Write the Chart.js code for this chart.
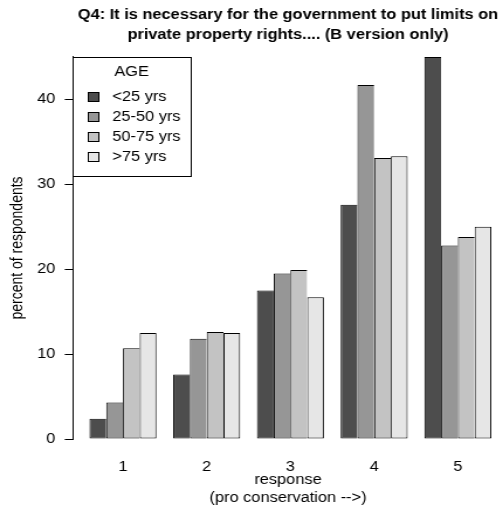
<!DOCTYPE html>
<html>
<head>
<meta charset="utf-8">
<script src="https://cdn.jsdelivr.net/npm/chart.js@4/dist/chart.umd.min.js"></script>
<style>
  html, body { margin: 0; padding: 0; background: #fff; overflow: hidden; }
  #wrap { width: 503px; height: 515px; overflow: hidden; }
  /* the plot is laid out on a narrower canvas and widened to the page */
  canvas { display: block; transform: scaleX(1.1698); transform-origin: 0 0; }
</style>
</head>
<body>
<div id="wrap"><canvas id="chart" width="430" height="515"></canvas></div>
<script>
// Response scale (1 = least, 5 = most pro conservation)
const responses = ['1', '2', '3', '4', '5'];

// Age groups shown in the legend
const ageGroups = ['<25 yrs', '25-50 yrs', '50-75 yrs', '>75 yrs'];

// Percent of respondents in each age group giving each response
const under25   = [2.4, 7.6, 17.5, 27.6, 45.0];
const age25to50 = [4.3, 11.8, 19.5, 41.7, 22.8];
const age50to75 = [10.7, 12.6, 19.9, 33.1, 23.8];
const over75    = [12.5, 12.5, 16.7, 33.3, 25.0];

const yTicks = [0, 10, 20, 30, 40];

const fills = ['#4D4D4D', '#969696', '#C3C3C3', '#E6E6E6'];
const FONT = '"Liberation Sans", Arial, Helvetica, sans-serif';

const seriesValues = [under25, age25to50, age50to75, over75];
const allValues = seriesValues.flat();

Chart.defaults.color = '#000';
Chart.defaults.font.family = FONT;
Chart.defaults.font.size = 14;

// Boxed legend with a heading, drawn in the top-left corner of the plot
const boxLegend = {
  id: 'boxLegend',
  afterDatasetsDraw(chart, args, opts) {
    const { ctx, chartArea } = chart;
    const x0 = Math.round(chartArea.left), y0 = Math.round(chartArea.top);
    ctx.save();
    ctx.fillStyle = '#fff';
    ctx.fillRect(x0, y0, opts.width, opts.height);
    ctx.strokeStyle = '#000';
    ctx.lineWidth = 1;
    ctx.strokeRect(x0 + 0.5, y0 + 0.5, opts.width, opts.height);
    ctx.font = '14px ' + FONT;
    ctx.fillStyle = '#000';
    ctx.textBaseline = 'middle';
    ctx.textAlign = 'center';
    ctx.fillText(opts.title, x0 + opts.width / 2, y0 + 15);
    ctx.textAlign = 'left';
    chart.data.datasets.forEach((ds, i) => {
      const cy = y0 + 40 + i * 20;
      ctx.fillStyle = ds.backgroundColor;
      ctx.fillRect(x0 + 13, cy - 5, 10, 10);
      ctx.strokeStyle = '#000';
      ctx.strokeRect(x0 + 13.5, cy - 4.5, 9, 9);
      ctx.fillStyle = '#000';
      ctx.fillText(ds.label, x0 + 34, cy);
    });
    ctx.restore();
  }
};

const lastSeries = ageGroups.length - 1;

new Chart(document.getElementById('chart'), {
  type: 'bar',
  data: {
    datasets: ageGroups.map((name, s) => ({
      label: name,
      data: seriesValues[s].map((v, i) => ({ x: i, y: v })),
      backgroundColor: fills[s],
      borderColor: '#000',
      borderWidth: { top: 1, left: 1, bottom: 1, right: s === lastSeries ? 1 : 0 },
      borderSkipped: false,
      categoryPercentage: 0.8,
      barPercentage: 1.0
    }))
  },
  options: {
    responsive: false,
    animation: false,
    events: [],
    layout: { padding: { top: 0, bottom: 8, left: 0, right: 0 } },
    plugins: {
      legend: { display: false },
      tooltip: { enabled: false },
      title: {
        display: true,
        fullSize: false,
        text: ['Q4: It is necessary for the government to put limits on',
               'private property rights.... (B version only)'],
        font: { size: 14, weight: 'bold', lineHeight: 1.414 },
        color: '#000',
        padding: { top: 5.6, bottom: 11.8 }
      },
      boxLegend: { title: 'AGE', width: 101, height: 119 }
    },
    scales: {
      x: {
        type: 'linear',
        offset: false,
        min: -0.597,
        max: 4.539,
        afterBuildTicks: (scale) => { scale.ticks = responses.map((r, i) => ({ value: i })); },
        ticks: {
          padding: 19.6,
          font: { size: 14 },
          callback: (value) => responses[value]
        },
        grid: { display: false, drawTicks: false },
        border: { display: false },
        title: {
          display: true,
          text: ['response', '(pro conservation -->)'],
          font: { size: 14, lineHeight: 1.2857 },
          padding: { top: -24, bottom: 0 }
        }
      },
      y: {
        min: 0,
        max: Math.max(...allValues),
        afterBuildTicks: (scale) => { scale.ticks = yTicks.map(v => ({ value: v })); },
        ticks: { padding: 8, font: { size: 14 } },
        grid: { drawOnChartArea: false, drawTicks: true, tickLength: 7, color: '#000' },
        border: { display: true, color: '#000', width: 1 },
        title: {
          display: true,
          text: 'percent of respondents',
          font: { size: 14 },
          padding: { top: 7, bottom: 0 }
        }
      }
    }
  },
  plugins: [boxLegend]
});
</script>
</body>
</html>
